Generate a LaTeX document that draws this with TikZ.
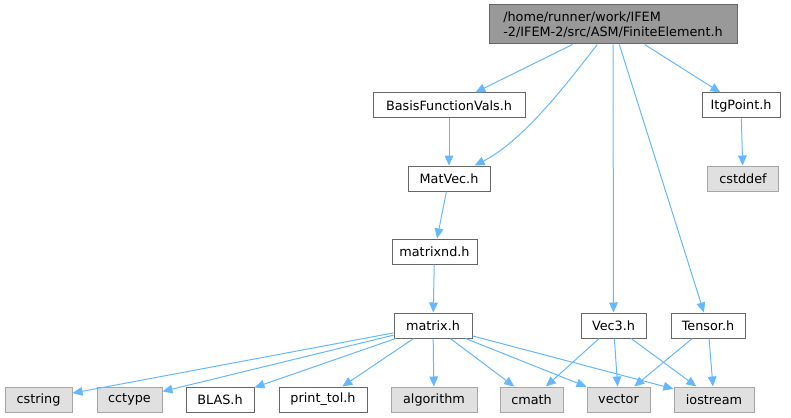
\documentclass[tikz,border=0pt]{standalone}
\usepackage{fontspec}
\setmainfont{DejaVu Sans}
\usetikzlibrary{arrows.meta}

\definecolor{edgeblue}{HTML}{63B8FF}
\definecolor{boxline}{HTML}{666666}
\definecolor{sysline}{HTML}{A6A6A6}
\definecolor{sysfill}{HTML}{E0E0E0}
\definecolor{topfill}{HTML}{999999}

\tikzset{every picture/.style={line width=0.75pt}}
\tikzset{
  hfile/.style={draw=boxline, fill=white, inner sep=0pt, minimum height=18.75pt,
    font=\fontsize{9.6}{11.25}\selectfont},
  sysfile/.style={hfile, draw=sysline, fill=sysfill},
  topfile/.style={hfile, fill=topfill, align=left, minimum height=29.25pt},
  incl/.style={draw=edgeblue, -{Triangle[length=7.5pt,width=6.5pt]}}
}

\begin{document}
\begin{tikzpicture}[x=0.75pt,y=0.75pt,yscale=-1,xscale=1]
\useasboundingbox (0,0) rectangle (791,417);

% Text Node
\node[topfile, minimum width=186pt] (fe) at (613,24.5) {/home/runner/work/IFEM\\-2/IFEM-2/src/ASM/FiniteElement.h};
% Text Node
\node[hfile, minimum width=114pt] (bfv) at (449,105.5) {BasisFunctionVals.h};
% Text Node
\node[hfile, minimum width=58.5pt] (itg) at (741,105.5) {ItgPoint.h};
% Text Node
\node[hfile, minimum width=61.5pt] (matvec) at (449,178.5) {MatVec.h};
% Text Node
\node[sysfile, minimum width=53.25pt] (cstddef) at (743,178.5) {cstddef};
% Text Node
\node[hfile, minimum width=63.75pt] (matrixnd) at (434.5,251.5) {matrixnd.h};
% Text Node
\node[hfile, minimum width=58.5pt] (matrix) at (433,325.5) {matrix.h};
% Text Node
\node[hfile, minimum width=48.75pt] (vec3) at (613.5,325.5) {Vec3.h};
% Text Node
\node[hfile, minimum width=55.5pt] (tensor) at (708,325.5) {Tensor.h};
% Text Node
\node[sysfile, minimum width=50.25pt] (cstring) at (38.5,399.5) {cstring};
% Text Node
\node[sysfile, minimum width=48.75pt] (cctype) at (129.5,399.5) {cctype};
% Text Node
\node[hfile, minimum width=51pt] (blas) at (220,399.5) {BLAS.h};
% Text Node
\node[hfile, minimum width=66pt] (printtol) at (323,399.5) {print\_tol.h};
% Text Node
\node[sysfile, minimum width=64.5pt] (algorithm) at (434,399.5) {algorithm};
% Text Node
\node[sysfile, minimum width=47.25pt] (cmath) at (531.5,399.5) {cmath};
% Text Node
\node[sysfile, minimum width=47.25pt] (vector) at (618.5,399.5) {vector};
% Text Node
\node[sysfile, minimum width=60pt] (iostream) at (714,399.5) {iostream};

%Straight Lines
\draw[incl] (fe) -- (bfv);
\draw[incl] (fe) .. controls (571,78) and (525,140) .. (matvec);
\draw[incl] (fe) -- (vec3);
\draw[incl] (fe) -- (tensor);
\draw[incl] (fe) -- (itg);
%Straight Lines
\draw[incl] (bfv) -- (matvec);
\draw[incl] (itg) -- (cstddef);
\draw[incl] (matvec) -- (matrixnd);
\draw[incl] (matrixnd) -- (matrix);
%Straight Lines
\draw[incl] (matrix) -- (cstring);
\draw[incl] (matrix) -- (cctype);
\draw[incl] (matrix) -- (blas);
\draw[incl] (matrix) -- (printtol);
\draw[incl] (matrix) -- (algorithm);
\draw[incl] (matrix) -- (cmath);
\draw[incl] (matrix) -- (vector);
\draw[incl] (matrix) -- (iostream);
%Straight Lines
\draw[incl] (vec3) -- (cmath);
\draw[incl] (vec3) -- (vector);
\draw[incl] (vec3) -- (iostream);
\draw[incl] (tensor) -- (vector);
\draw[incl] (tensor) -- (iostream);

\end{tikzpicture}
\end{document}
